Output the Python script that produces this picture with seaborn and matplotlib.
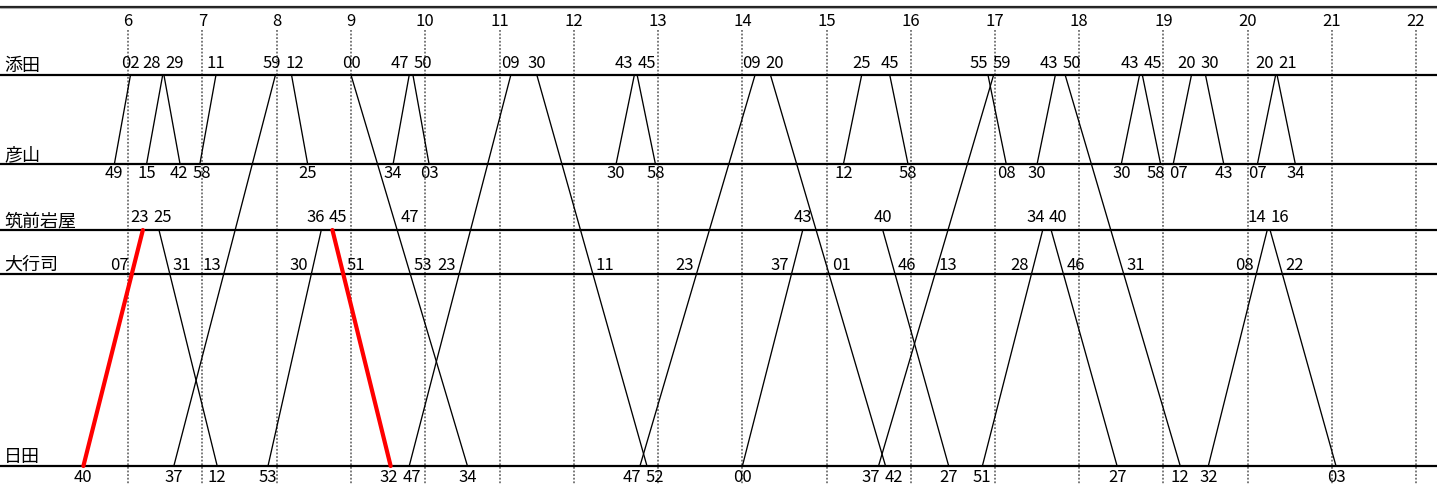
import numpy as np
import pandas as pd
import matplotlib
matplotlib.use("Agg")
import matplotlib.pyplot as plt
import seaborn as sns

# ---------------- data ----------------
stations = ["添田", "彦山", "筑前岩屋", "大行司", "日田"]
hours = list(range(6, 23))

# 添田–彦山 shuttles: (from station, time) -> (to station, time)
shuttle_trains = [
    [("彦山", "5:49"), ("添田", "6:02")],
    [("彦山", "6:15"), ("添田", "6:28")],
    [("添田", "6:29"), ("彦山", "6:42")],
    [("彦山", "6:58"), ("添田", "7:11")],
    [("添田", "8:12"), ("彦山", "8:25")],
    [("彦山", "9:34"), ("添田", "9:47")],
    [("添田", "9:50"), ("彦山", "10:03")],
    [("彦山", "12:30"), ("添田", "12:43")],
    [("添田", "12:45"), ("彦山", "12:58")],
    [("彦山", "15:12"), ("添田", "15:25")],
    [("添田", "15:45"), ("彦山", "15:58")],
    [("添田", "16:55"), ("彦山", "17:08")],
    [("彦山", "17:30"), ("添田", "17:43")],
    [("彦山", "18:30"), ("添田", "18:43")],
    [("添田", "18:45"), ("彦山", "18:58")],
    [("彦山", "19:07"), ("添田", "19:20")],
    [("添田", "19:30"), ("彦山", "19:43")],
    [("彦山", "20:07"), ("添田", "20:20")],
    [("添田", "20:21"), ("彦山", "20:34")],
]

# through trains (stops in running order)
through_trains = [
    [("日田", "5:40"), ("大行司", "6:07"), ("筑前岩屋", "6:23")],
    [("筑前岩屋", "6:25"), ("大行司", "6:31"), ("日田", "7:12")],
    [("日田", "6:37"), ("大行司", "7:13"), ("添田", "7:59")],
    [("日田", "7:53"), ("大行司", "8:30"), ("筑前岩屋", "8:36")],
    [("筑前岩屋", "8:45"), ("大行司", "8:51"), ("日田", "9:32")],
    [("添田", "9:00"), ("筑前岩屋", "9:47"), ("大行司", "9:53"), ("日田", "10:34")],
    [("日田", "9:47"), ("大行司", "10:23"), ("添田", "11:09")],
    [("添田", "11:30"), ("大行司", "12:11"), ("日田", "12:52")],
    [("日田", "12:47"), ("大行司", "13:23"), ("添田", "14:09")],
    [("日田", "14:00"), ("大行司", "14:37"), ("筑前岩屋", "14:43")],
    [("添田", "14:20"), ("大行司", "15:01"), ("日田", "15:42")],
    [("日田", "15:37"), ("大行司", "16:13"), ("添田", "16:59")],
    [("筑前岩屋", "15:40"), ("大行司", "15:46"), ("日田", "16:27")],
    [("日田", "16:51"), ("大行司", "17:28"), ("筑前岩屋", "17:34")],
    [("筑前岩屋", "17:40"), ("大行司", "17:46"), ("日田", "18:27")],
    [("添田", "17:50"), ("大行司", "18:31"), ("日田", "19:12")],
    [("日田", "19:32"), ("大行司", "20:08"), ("筑前岩屋", "20:14")],
    [("筑前岩屋", "20:16"), ("大行司", "20:22"), ("日田", "21:03")],
]
red_trains = [0, 4]            # indices in through_trains drawn in red
# line of the first red train as drawn in the chart (differs from its printed times)
red_drawn_line = {0: ("5:24", "6:12")}

# ---------------- layout ----------------
W, H = 1437, 484
station_y = {"添田": 75, "彦山": 164, "筑前岩屋": 230, "大行司": 274, "日田": 466}
label_dy = {"添田": -11, "彦山": 10, "筑前岩屋": -12, "大行司": -8, "日田": 12}
HOUR_KNOTS = [0, 6, 12, 22, 30]
PX_KNOTS = [128 - 6 * 74.33, 128, 574, 1416, 1416 + 8 * 84.2]
NUM_FS = 12
NAME_FS = 13
LABEL_W = 19


def fwd(t):
    return np.interp(t, HOUR_KNOTS, PX_KNOTS)


def inv(p):
    return np.interp(p, PX_KNOTS, HOUR_KNOTS)


def to_h(s):
    h, m = s.split(":")
    return int(h) + int(m) / 60.0


sns.set_theme(style="white")
plt.rcParams["font.family"] = ["Noto Sans CJK JP", "DejaVu Sans"]

fig = plt.figure(figsize=(W / 100, H / 100), dpi=100)
ax = fig.add_axes([0, 0, 1, 1])
ax.set_xscale("function", functions=(fwd, inv))
ax.set_xlim(inv(0), inv(W))
ax.set_ylim(H, 0)
ax.set_axis_off()

# hour grid
ax.vlines(hours, 30, H, colors="#6e6e6e", linestyles=(0, (1, 1)), lw=1.3, zorder=1)
for h in hours:
    ax.text(h, 21, str(h), ha="center", va="center", fontsize=NUM_FS, color="black")
# top border
ax.axhline(6.5, color="#222222", lw=1.6, zorder=3)
ax.axhline(8.3, color="#aaaaaa", lw=0.8, zorder=3)
# station lines & names
ax.hlines([station_y[s] for s in stations], inv(0), inv(W), colors="black", lw=1.6, zorder=3)
for s in stations:
    ax.text(inv(4), station_y[s] - 9, s, ha="left", va="center", fontsize=NAME_FS, color="black")

# build line data
rows = []
all_trains = shuttle_trains + through_trains
n_sh = len(shuttle_trains)
for i, tr in enumerate(all_trains):
    red = (i - n_sh) in red_trains
    first, last = tr[0], tr[-1]
    t0, t1 = to_h(first[1]), to_h(last[1])
    if (i - n_sh) in red_drawn_line:
        t0, t1 = (to_h(x) for x in red_drawn_line[i - n_sh])
    rows.append(dict(train=i, time=t0, y=station_y[first[0]], red=red))
    rows.append(dict(train=i, time=t1, y=station_y[last[0]], red=red))
df = pd.DataFrame(rows)

sns.lineplot(data=df[~df.red], x="time", y="y", units="train", estimator=None,
             sort=False, color="black", lw=0.95, ax=ax, legend=False, zorder=4)
sns.lineplot(data=df[df.red], x="time", y="y", units="train", estimator=None,
             sort=False, color="#ff0000", lw=3.0, ax=ax, legend=False, zorder=5)
ax.set_xlim(inv(0), inv(W))
ax.set_ylim(H, 0)

# labels
end_labels = {s: [] for s in stations}   # (px, text)
mid_labels = []                           # (px, station, text, up)
for i, tr in enumerate(all_trains):
    d = df[df.train == i]
    xa, xb = fwd(d.time.values[0]), fwd(d.time.values[1])
    ya, yb = d.y.values[0], d.y.values[1]
    up = ya > yb
    for k, (st, tm) in enumerate(tr):
        txt = tm.split(":")[1]
        if k == 0:
            end_labels[st].append([xa, txt])
        elif k == len(tr) - 1:
            end_labels[st].append([xb, txt])
        else:
            ys = station_y[st]
            xc = xa + (ys - ya) / (yb - ya) * (xb - xa)
            mid_labels.append((xc, st, txt, up))

MIN_SEP = 23
for st, labs in end_labels.items():
    labs.sort(key=lambda v: v[0])
    for j in range(len(labs) - 1):
        dx = labs[j + 1][0] - labs[j][0]
        if dx < MIN_SEP:
            sh = (MIN_SEP - dx) / 2
            labs[j][0] -= sh
            labs[j + 1][0] += sh
    for px, txt in labs:
        ax.text(inv(px), station_y[st] + label_dy[st], txt, ha="center", va="center",
                fontsize=NUM_FS, color="black", zorder=6)

# intermediate labels: left of up-lines, right of down-lines, flipped on overlap
spans = []
for xc, st, txt, up in mid_labels:
    if not up:
        spans.append((st, xc + 3, xc + 3 + LABEL_W))
for xc, st, txt, up in mid_labels:
    if up:
        left = (xc - 3 - LABEL_W, xc - 3)
        clash = any(s == st and not (left[1] < a or left[0] > b) for s, a, b in spans)
        if clash:
            ax.text(inv(xc + 3), station_y[st] + label_dy[st], txt, ha="left", va="center",
                    fontsize=NUM_FS, color="black", zorder=6)
        else:
            ax.text(inv(xc - 3), station_y[st] + label_dy[st], txt, ha="right", va="center",
                    fontsize=NUM_FS, color="black", zorder=6)
    else:
        ax.text(inv(xc + 3), station_y[st] + label_dy[st], txt, ha="left", va="center",
                fontsize=NUM_FS, color="black", zorder=6)

fig.savefig("out.png", dpi=100, facecolor="white")
